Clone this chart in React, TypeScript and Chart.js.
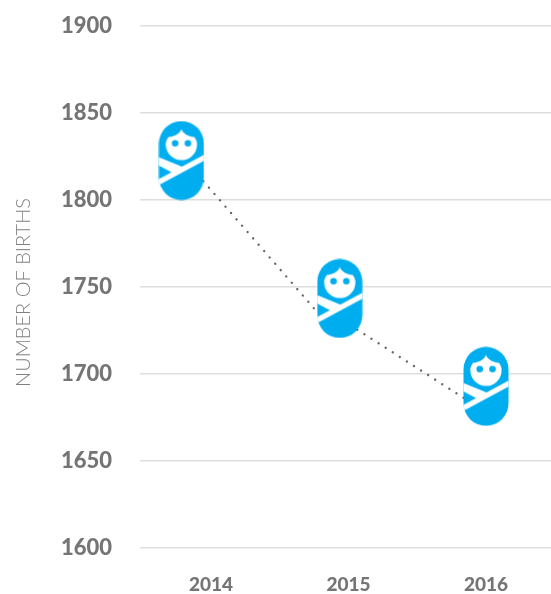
import React, { useEffect, useRef } from "react";
import { Chart, registerables } from "chart.js";

Chart.register(...registerables);

const yearTicks = [2014, 2015, 2016];
const valueTicks = [1600, 1650, 1700, 1750, 1800, 1850, 1900];
const iconYears = [2013.785, 2014.937, 2016];
const iconValues = [1822.7, 1743.4, 1692.9];
const lineYears = [2013.905, 2014.829, 2015.069, 2015.884];
const lineValues = [1814.4, 1730.5, 1725.3, 1683.9];
const axisTitle = "NUMBER OF BIRTHS";

const BLUE = "#00aeef";

function makeBaby(): HTMLCanvasElement {
  const c = document.createElement("canvas");
  c.width = 46;
  c.height = 80;
  const g = c.getContext("2d")!;
  g.translate(0.5, 0.5);
  const w = 45;
  const h = 79;
  const r = 22.5;
  g.save();
  g.beginPath();
  g.arc(r, r, r, Math.PI, 0);
  g.lineTo(w, h - r);
  g.arc(r, h - r, r, 0, Math.PI);
  g.closePath();
  g.fillStyle = BLUE;
  g.fill();
  g.clip();
  g.fillStyle = "#fff";
  // main diagonal wrap
  g.beginPath();
  g.moveTo(48, 32.2);
  g.lineTo(48, 38.2);
  g.lineTo(-3, 65.7);
  g.lineTo(-3, 59.7);
  g.closePath();
  g.fill();
  // short wrap from the left
  g.beginPath();
  g.moveTo(-3, 35);
  g.lineTo(24, 46);
  g.lineTo(14, 52);
  g.lineTo(-3, 43);
  g.closePath();
  g.fill();
  g.restore();
  // face
  g.fillStyle = "#fff";
  g.beginPath();
  g.moveTo(22.5, 8);
  g.bezierCurveTo(24, 13, 30, 15.5, 35.5, 16);
  g.bezierCurveTo(38, 19.5, 38.4, 22, 38, 24.5);
  g.arc(22.5, 23.5, 15.6, 0.06, Math.PI - 0.06);
  g.bezierCurveTo(6.6, 22, 7, 19.5, 9.5, 16);
  g.bezierCurveTo(15, 15.5, 21, 13, 22.5, 8);
  g.closePath();
  g.fill();
  // eyes
  g.fillStyle = BLUE;
  g.beginPath();
  g.arc(16.2, 22.3, 3.3, 0, Math.PI * 2);
  g.arc(29, 22.3, 3.3, 0, Math.PI * 2);
  g.fill();
  return c;
}

export default function App() {
  const ref = useRef<HTMLCanvasElement>(null);

  useEffect(() => {
    document.body.style.margin = "0";
    const baby = makeBaby();
    const titlePlugin = {
      id: "axisTitleText",
      afterDraw(chart: any) {
        const ctx = chart.ctx;
        ctx.save();
        ctx.translate(24, 292.5);
        ctx.rotate(-Math.PI / 2);
        ctx.font = "300 20px Lato";
        ctx.fillStyle = "#808080";
        ctx.textAlign = "center";
        ctx.textBaseline = "middle";
        ctx.fillText(axisTitle, 0, 0);
        ctx.restore();
      },
    };
    const chart = new Chart(ref.current!, {
      type: "scatter",
      data: {
        datasets: [
          {
            label: "Icons",
            data: iconYears.map((x, i) => ({ x, y: iconValues[i] })),
            pointStyle: baby as any,
            pointRadius: 23,
            showLine: false,
            order: 0,
          },
          {
            label: "Births",
            data: lineYears.map((x, i) => ({ x, y: lineValues[i] })),
            showLine: true,
            pointRadius: 0,
            borderColor: "#666666",
            borderWidth: 2.4,
            borderCapStyle: "round",
            borderDash: [0.01, 8.4],
            tension: 0,
            order: 1,
          },
        ],
      },
      plugins: [titlePlugin],
      options: {
        responsive: false,
        animation: false,
        layout: { autoPadding: false, padding: { top: 26, right: 0, left: 0, bottom: 0 } },
        plugins: { legend: { display: false }, tooltip: { enabled: false } },
        scales: {
          x: {
            type: "linear",
            min: 2013.484,
            max: 2016.473,
            afterBuildTicks: (s: any) => {
              s.ticks = yearTicks.map((value) => ({ value }));
            },
            afterFit: (s: any) => {
              s.height = 46;
              s.paddingLeft = 0;
              s.paddingRight = 0;
            },
            grid: { display: false },
            border: { display: false },
            ticks: {
              autoSkip: false,
              maxRotation: 0,
              padding: 17,
              color: "#757575",
              font: { family: "Lato", size: 19, weight: "900" },
              callback: (v: any) => String(v),
            },
          },
          y: {
            type: "linear",
            min: 1600,
            max: 1900,
            afterBuildTicks: (s: any) => {
              s.ticks = valueTicks.map((value) => ({ value }));
            },
            afterFit: (s: any) => {
              s.width = 140;
              s.paddingTop = 0;
              s.paddingBottom = 0;
            },
            grid: { color: "#dedede", lineWidth: 1.5, drawTicks: false },
            border: { display: false },
            ticks: {
              padding: 28,
              labelOffset: 0,
              color: "#757575",
              font: { family: "Lato", size: 22, weight: "900" },
              callback: (v: any) => String(v),
            },
          },
        },
      },
    } as any);
    return () => chart.destroy();
  }, []);

  return <canvas ref={ref} width={551} height={594} style={{ display: "block" }} />;
}
